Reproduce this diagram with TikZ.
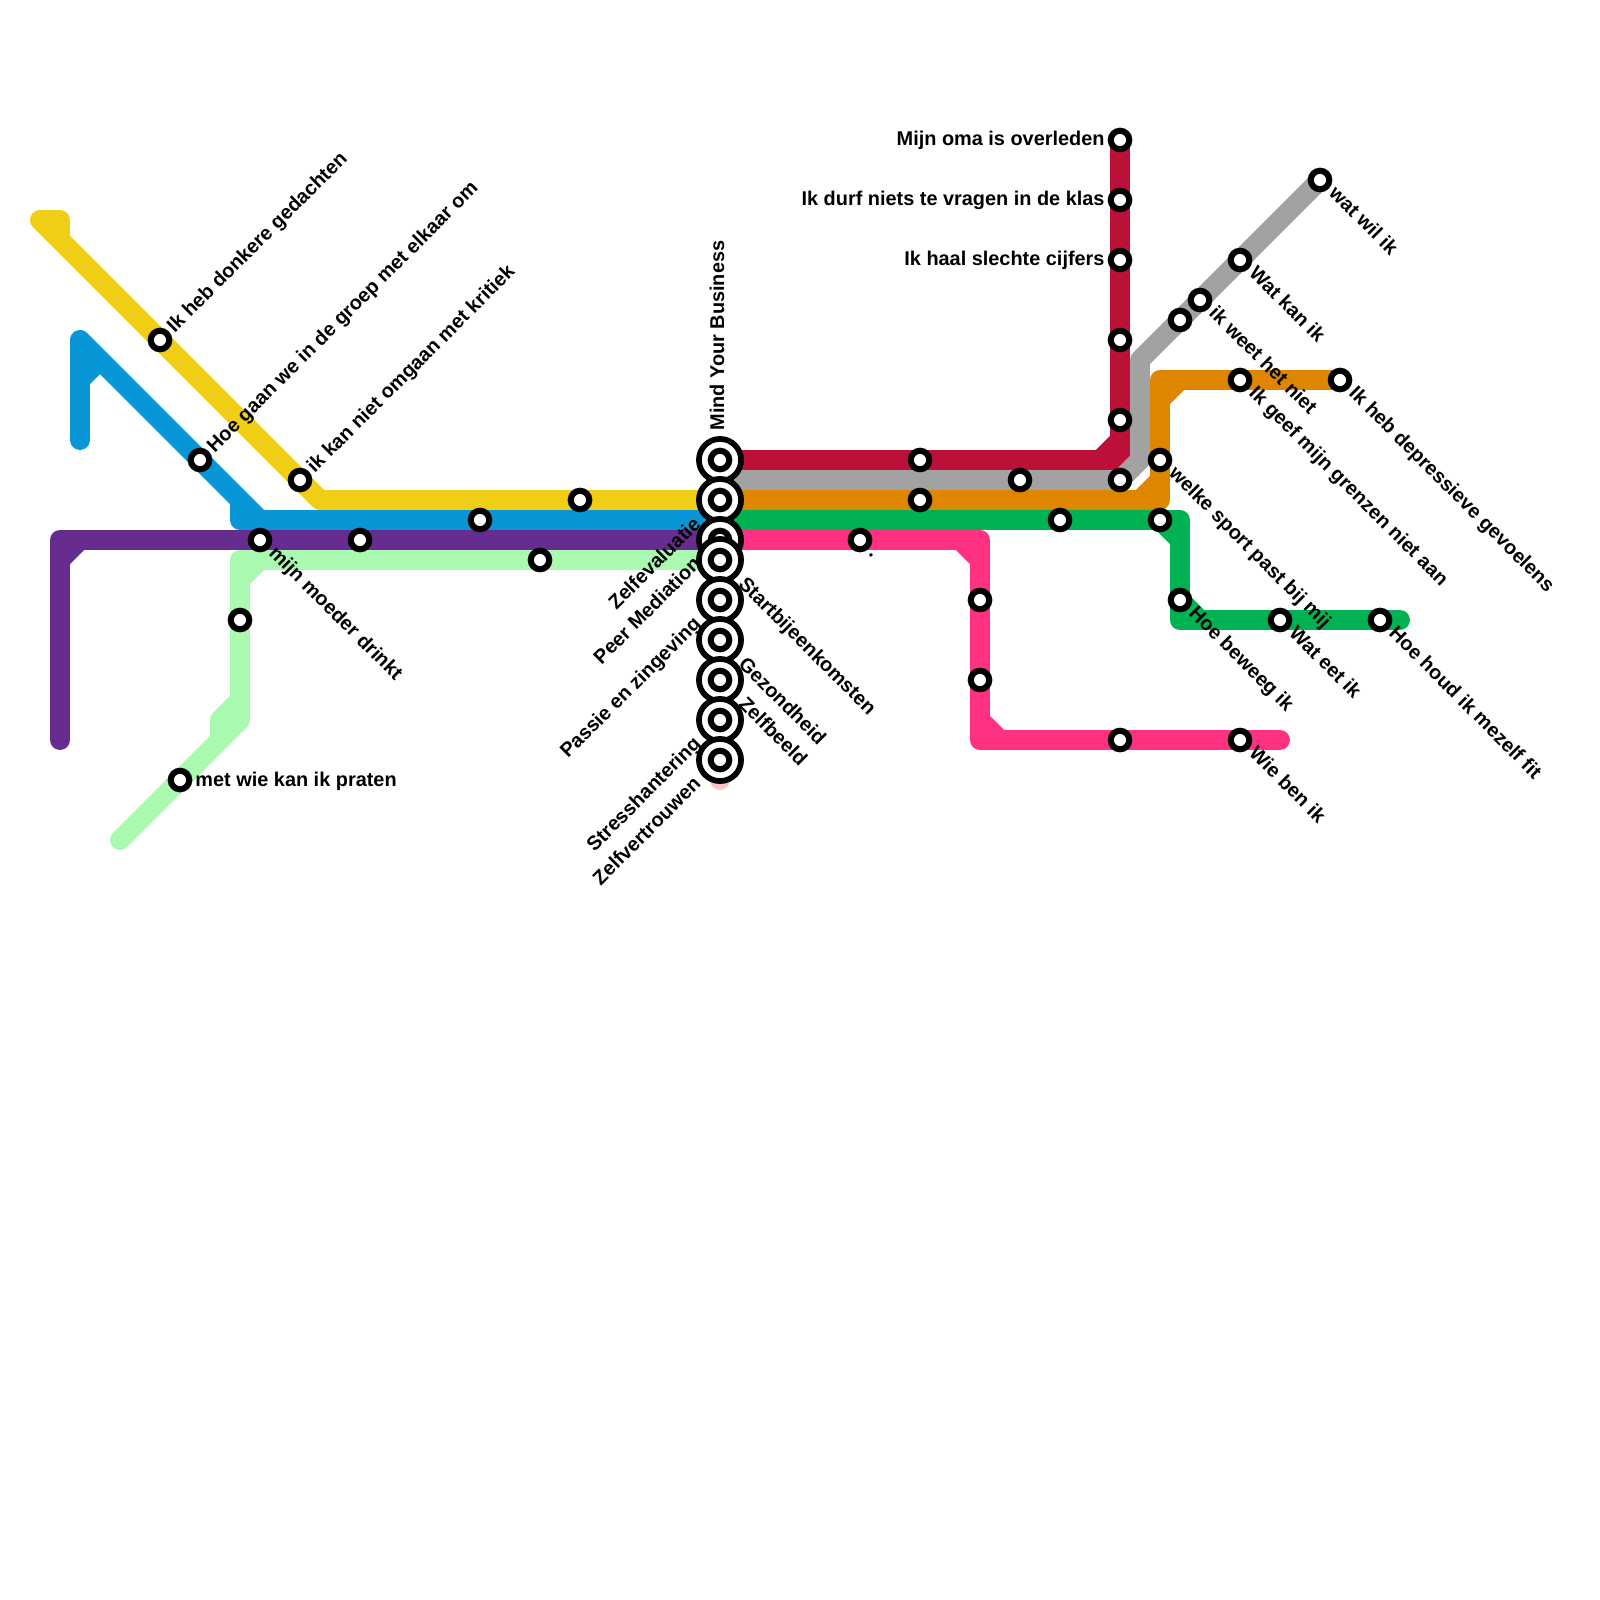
\documentclass[tikz,border=0pt]{standalone}
\usepackage{fontspec}
\setmainfont{Liberation Sans}[BoldFont={Liberation Sans Bold}]
\usepackage{xcolor}
\definecolor{geel}{HTML}{F0CE15}
\definecolor{blauw}{HTML}{0896D7}
\definecolor{paars}{HTML}{662C90}
\definecolor{lichtgroen}{HTML}{A9F9B1}
\definecolor{rood}{HTML}{BD1038}
\definecolor{grijs}{HTML}{A2A2A2}
\definecolor{oranje}{HTML}{DF8600}
\definecolor{groen}{HTML}{00B251}
\definecolor{roze}{HTML}{FF3182}
\definecolor{bleekroze}{HTML}{F7C6C8}
\tikzset{
lijn/.style={line width=14.2pt,line join=round,line cap=round},
stn/.style={circle,draw=black,fill=white,line width=4.3pt,minimum size=13.2pt,inner sep=0pt,outer sep=0pt},
hubring/.style={circle,draw=black,fill=white,line width=4.05pt,minimum size=30pt,inner sep=0pt,outer sep=0pt},
tekst/.style={inner sep=0pt,outer sep=0pt,font=\fontsize{14.15}{17}\selectfont\bfseries},
lne/.style={tekst,anchor=base west,xshift=10.5pt,yshift=4.6pt,rotate=45},
lse/.style={tekst,anchor=base west,xshift=5.8pt,yshift=-10.3pt,rotate=-45},
lnw/.style={tekst,anchor=base east,xshift=-13pt,yshift=-18pt,rotate=45},
lhse/.style={tekst,anchor=base west,xshift=12.5pt,yshift=-18pt,rotate=-45},
lw/.style={tekst,anchor=base east,xshift=-11pt,yshift=-3.8pt},
le/.style={tekst,anchor=base west,xshift=11pt,yshift=-4.5pt},
lup/.style={tekst,anchor=base west,xshift=3pt,yshift=21pt,rotate=90}
}
\begin{document}
\begin{tikzpicture}[x=5mm,y=-5mm]
\useasboundingbox(0,0)rectangle(80,80);
\draw[lijn,bleekroze](36,38)--(36,39);
\draw[lijn,geel](3,12)--(3,11)--(2,11)--(16,25)--(36,25);
\draw[lijn,blauw](4,22)--(4,17)--(13,26)--(12,26)--(12,25)
(4,19)--(5,18)
(13,26)--(36,26);
\draw[lijn,paars](3,37)--(3,27)--(36,27)
(3,28)--(4,27);
\draw[lijn,lichtgroen](36,28)--(12,28)--(12,36)--(6,42)
(12,29)--(13,28)
(11,37)--(11,36)--(12,35);
\draw[lijn,rood](56,7)--(56,23)--(36,23)
(55,23)--(56,22);
\draw[lijn,grijs](66,9)--(57,18)--(57,23)--(56,24)--(36,24);
\draw[lijn,oranje](67,19)--(58,19)--(58,25)--(36,25)
(58,20)--(59,19)
(58,24)--(57,25);
\draw[lijn,groen](36,26)--(59,26)--(59,31)--(70,31)
(58,26)--(59,27)
(59,30)--(60,31);
\draw[lijn,roze](36,27)--(49,27)--(49,37)--(64,37)
(48,27)--(49,28)
(49,36)--(50,37);
\path(36,23)node[hubring](mind){}node[stn](mindk){}
(36,25)node[hubring](zelfev){}node[stn](zelfevk){}
(36,27)node[hubring](peer){}node[stn](peerk){}
(36,28)node[hubring](start){}node[stn](startk){}
(36,30)node[hubring](passie){}node[stn](passiek){}
(36,32)node[hubring](gezond){}node[stn](gezondk){}
(36,34)node[hubring](beeld){}node[stn](beeldk){}
(36,36)node[hubring](stress){}node[stn](stressk){}
(36,38)node[hubring](vertr){}node[stn](vertrk){};
\path(36,23)node[lup](mindt){Mind Your Business}
(36,25)node[lnw](zelfevt){Zelfevaluatie}
(36,27)node[lnw](peert){Peer Mediation}
(36,28)node[lhse](startt){Startbijeenkomsten}
(36,30)node[lnw](passiet){Passie en zingeving}
(36,32)node[lhse](gezondt){Gezondheid}
(36,34)node[lhse](beeldt){Zelfbeeld}
(36,36)node[lnw](stresst){Stresshantering}
(36,38)node[lnw](vertrt){Zelfvertrouwen};
\path(8,17)node[stn](heb){}node[lne](hebt){Ik heb donkere gedachten}
(10,23)node[stn](groep){}node[lne](groept){Hoe gaan we in de groep met elkaar om}
(15,24)node[stn](kritiek){}node[lne](kritiekt){ik kan niet omgaan met kritiek}
(13,27)node[stn](moeder){}node[lse](moedert){mijn moeder drinkt}
(18,27)node[stn](paars2){}
(24,26)node[stn](blauw2){}
(29,25)node[stn](geel2){}
(27,28)node[stn](groen2){}
(12,31)node[stn](groen3){}
(9,39)node[stn](praten){}node[le](pratent){met wie kan ik praten};
\path(56,7)node[stn](oma){}node[lw](omat){Mijn oma is overleden}
(56,10)node[stn](klas){}node[lw](klast){Ik durf niets te vragen in de klas}
(56,13)node[stn](cijfers){}node[lw](cijferst){Ik haal slechte cijfers}
(56,17)node[stn](rood4){}
(56,21)node[stn](rood5){}
(56,24)node[stn](rood6){}
(46,23)node[stn](rood7){}
(46,25)node[stn](oranje2){}
(51,24)node[stn](grijs2){}
(53,26)node[stn](groen4){}
(43,27)node[stn](roze2){}node[lse](roze2t){.}
(49,30)node[stn](roze3){}
(49,34)node[stn](roze4){}
(56,37)node[stn](roze5){};
\path(66,9)node[stn](wil){}node[lse](wilt){wat wil ik}
(62,13)node[stn](kan){}node[lse](kant){Wat kan ik}
(60,15)node[stn](weet){}node[lse](weett){ik weet het niet}
(59,16)node[stn](grijs3){}
(62,19)node[stn](grenzen){}node[lse](grenzent){Ik geef mijn grenzen niet aan}
(67,19)node[stn](depressie){}node[lse](depressiet){Ik heb depressieve gevoelens}
(58,23)node[stn](sport){}node[lse](sportt){welke sport past bij mij}
(58,26)node[stn](groen5){}
(59,30)node[stn](beweeg){}node[lse](beweegt){Hoe beweeg ik}
(64,31)node[stn](eet){}node[lse](eett){Wat eet ik}
(69,31)node[stn](fit){}node[lse](fitt){Hoe houd ik mezelf fit}
(62,37)node[stn](wie){}node[lse](wiet){Wie ben ik};
\end{tikzpicture}
\end{document}
